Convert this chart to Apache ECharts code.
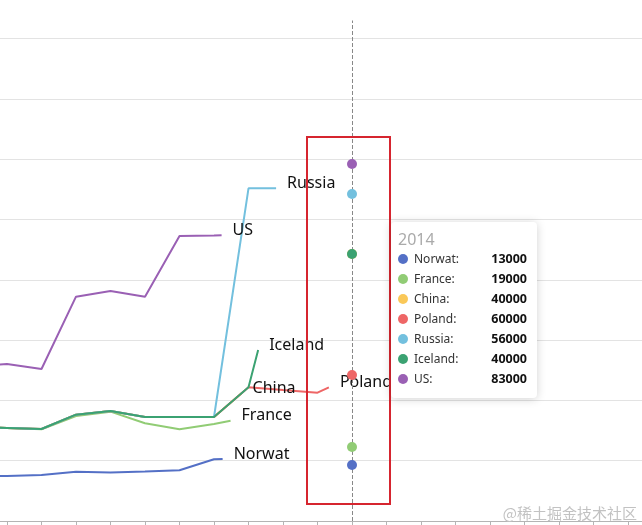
<!DOCTYPE html>
<html>
<head>
<meta charset="utf-8">
<script src="https://cdn.jsdelivr.net/npm/echarts@6/dist/echarts.min.js"></script>
<style>
  html, body { margin: 0; padding: 0; background: #fff; }
  #main { width: 642px; height: 525px; }
</style>
</head>
<body>
<div id="main"></div>
<script>
// ---------- data ----------
const years = [2003, 2004, 2005, 2006, 2007, 2008, 2009, 2010, 2011, 2012, 2013];
const seriesNames = ['Norwat', 'France', 'China', 'Poland', 'Russia', 'Iceland', 'US'];
const seriesColors = ['#5470c6', '#91cc75', '#fac858', '#ee6666', '#73c0de', '#3ba272', '#9a60b4'];

const norwat  = [7400, 7460, 7630, 8180, 8040, 8210, 8410, 10230];
const france  = [15590, 15420, 15210, 17410, 18130, 16200, 15210, 16090];
const china   = [15590, 15420, 15260, 17630, 18240, 17250, 17250, 17250];
const poland  = [15590, 15420, 15260, 17630, 18240, 17250, 17250, 17250, 22170, 21720, 21280];
const russia  = [15590, 15420, 15260, 17630, 18240, 17250, 17250, 17250, 55170];
const iceland = [15590, 15420, 15260, 17630, 18240, 17250, 17250, 17250, 22170];
const us      = [25700, 26040, 25210, 37200, 38140, 37200, 47260, 47350];

// where each drawn line currently stops (year, value)
const lineEnds = [
  [2010.25, 10280],
  [2010.48, 16630],
  [2010.8, 21190],
  [2013.33, 22170],
  [2011.8, 55170],
  [2011.28, 28360],
  [2010.22, 47380]
];

// hover points at the pointer year
const pointerYear = 2014;
const pointerValues = [9290, 12270, 44280, 24210, 54230, 44280, 59200];

// tooltip texts
const tooltipValues = [13000, 19000, 40000, 60000, 56000, 40000, 83000];

// ---------- chart ----------
const FONT = '"Noto Sans", "Open Sans", sans-serif';
const allValues = [norwat, france, china, poland, russia, iceland, us];

const lineSeries = seriesNames.map((name, i) => ({
  name: name,
  type: 'line',
  showSymbol: false,
  silent: true,
  color: seriesColors[i],
  lineStyle: { width: 2, color: seriesColors[i] },
  emphasis: { disabled: true },
  data: allValues[i].map((v, k) => [years[k], v]).concat([lineEnds[i]]),
  endLabel: {
    show: true,
    formatter: '{a}',
    fontSize: 16,
    fontFamily: FONT,
    color: '#111',
    offset: [3, -5]
  }
}));

const dotSeries = {
  name: 'pointer',
  type: 'scatter',
  symbolSize: 10,
  emphasis: { disabled: true, scale: false },
  data: pointerValues.map((v, i) => ({
    value: [pointerYear, v],
    name: seriesNames[i],
    itemStyle: { color: seriesColors[i], opacity: 1 }
  })),
  markLine: {
    silent: true,
    symbol: 'none',
    animation: false,
    label: { show: false },
    lineStyle: { type: 'dashed', color: '#888', width: 1 },
    data: [{ xAxis: pointerYear }]
  },
  z: 5
};

const chart = echarts.init(document.getElementById('main'), null, { renderer: 'canvas' });

chart.setOption({
  animation: false,
  backgroundColor: '#fff',
  grid: {
    left: -27.5, right: -20.5, top: 20.5, bottom: 4,
    containLabel: false,
    outerBoundsMode: 'none'
  },
  xAxis: {
    type: 'value',
    min: 2003,
    max: 2023,
    interval: 1,
    axisLine: { show: true, lineStyle: { color: '#b4b4b4', width: 1 } },
    axisTick: { show: true, length: 6, lineStyle: { color: '#b4b4b4' } },
    axisLabel: { show: false },
    splitLine: { show: false }
  },
  yAxis: {
    type: 'value',
    min: 0,
    max: 83000,
    interval: 10000,
    axisLine: { show: false },
    axisTick: { show: false },
    axisLabel: { show: false },
    splitLine: { show: true, showMaxLine: false, showMinLine: false, lineStyle: { color: '#e3e3e3', width: 1 } }
  },
  tooltip: {
    trigger: 'item',
    triggerOn: 'none',
    alwaysShowContent: true,
    transitionDuration: 0,
    backgroundColor: '#fff',
    borderWidth: 0,
    padding: 0,
    extraCssText: 'box-shadow:0 1px 10px rgba(0,0,0,0.18);border-radius:4px;',
    position: [391, 222],
    formatter: function () {
      let html = '<div style="width:129px;padding:7px 10px 9px 7px;font-family:' + FONT.replace(/"/g, "'") + ';">';
      html += '<div style="font-size:16px;line-height:20px;height:20px;color:#aaa;">' + pointerYear + '</div>';
      seriesNames.forEach((n, i) => {
        html += '<div style="display:flex;align-items:center;height:20px;line-height:20px;font-size:12px;">' +
          '<span style="display:inline-block;width:10px;height:10px;border-radius:5px;background:' + seriesColors[i] + ';margin-right:6px;"></span>' +
          '<span style="flex:1;color:#333;">' + n + ':</span>' +
          '<span style="font-weight:bold;color:#111;font-size:12.5px;">' + tooltipValues[i] + '</span></div>';
      });
      html += '</div>';
      return html;
    }
  },
  graphic: [
    {
      type: 'rect',
      silent: true,
      z: 100,
      shape: { x: 307, y: 137, width: 83, height: 367 },
      style: { fill: 'none', stroke: '#d6252f', lineWidth: 2 }
    },
    {
      type: 'text',
      silent: true,
      z: 100,
      right: 5,
      bottom: 4,
      style: {
        text: '@稀土掘金技术社区',
        fill: '#c2c2c2',
        font: '15px "Noto Sans CJK SC", sans-serif'
      }
    }
  ],
  series: lineSeries.concat([dotSeries])
});

function showTip() {
  chart.dispatchAction({ type: 'showTip', seriesIndex: lineSeries.length, dataIndex: 6 });
}
showTip();
setTimeout(showTip, 0);
</script>
</body>
</html>
